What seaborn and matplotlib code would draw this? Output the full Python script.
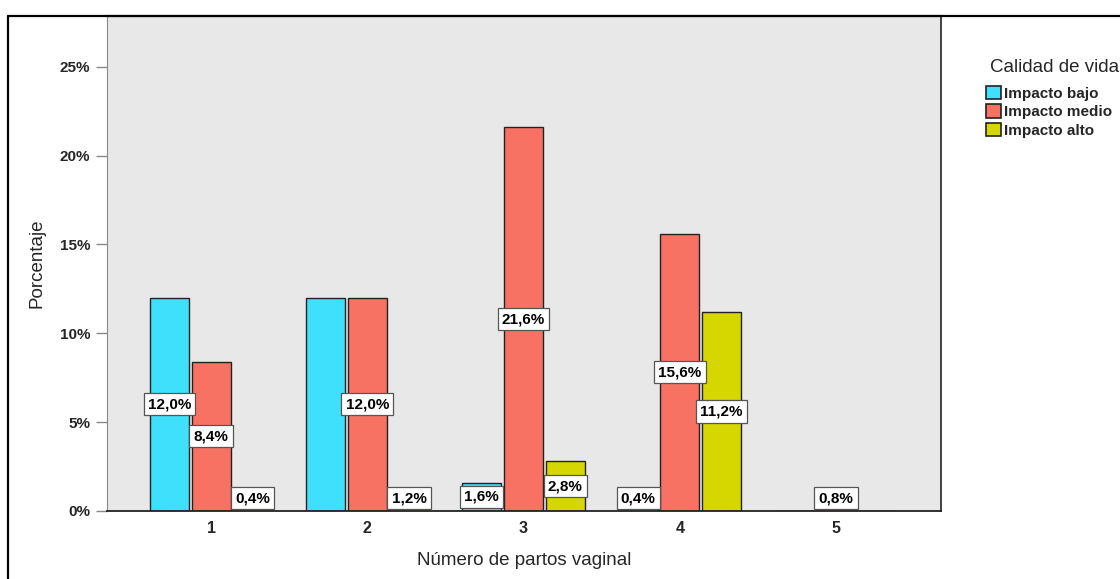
import matplotlib
matplotlib.use("Agg")
import matplotlib.pyplot as plt
from matplotlib.lines import Line2D
import seaborn as sns
import pandas as pd

# Data: percentage of cases by number of vaginal births and quality-of-life impact
partos = ["1", "2", "3", "4", "5"]
impacto_bajo = [12.0, 12.0, 1.6, 0.4, 0.0]
impacto_medio = [8.4, 12.0, 21.6, 15.6, 0.8]
impacto_alto = [0.4, 1.2, 2.8, 11.2, 0.0]
# which bars carry a value label
rotulo_bajo = [True, False, True, True, False]
rotulo_medio = [True, True, True, True, True]
rotulo_alto = [True, True, True, True, False]
niveles = ["Impacto bajo", "Impacto medio", "Impacto alto"]
colores = ["#3ee0fc", "#f87264", "#d6d600"]
yticks = [0, 5, 10, 15, 20, 25]

df = pd.DataFrame({
    "partos": partos * 3,
    "calidad": [niveles[0]] * 5 + [niveles[1]] * 5 + [niveles[2]] * 5,
    "pct": impacto_bajo + impacto_medio + impacto_alto,
})

sns.set_style("white")
plt.rcParams["font.family"] = ["Liberation Sans", "DejaVu Sans"]

fig = plt.figure(figsize=(11.2, 5.79), dpi=100)
ax = fig.add_axes([107 / 1120, 1 - 511 / 579, (941 - 107) / 1120, (511 - 16) / 579])
ax.set_facecolor("#e8e8e8")

sns.barplot(data=df, x="partos", y="pct", hue="calidad", hue_order=niveles,
            palette=colores, width=0.8, gap=0.0625, edgecolor="#222222",
            linewidth=1.0, saturation=1, ax=ax, errorbar=None)

ax.set_xlim(-0.666, 4.672)
ax.set_ylim(0, 27.85)
ax.set_yticks(yticks)
ax.set_yticklabels([f"{t}%" for t in yticks], fontsize=11, fontweight="bold",
                   family=["Liberation Sans Narrow", "Liberation Sans"])
ax.tick_params(axis="y", length=8, width=1, color="#888888", pad=4, left=True)
ax.tick_params(axis="x", length=0, pad=7)
for lab in ax.get_xticklabels():
    lab.set_fontsize(11.5)
    lab.set_fontweight("bold")

ax.set_xlabel("Número de partos vaginal", fontsize=13.5, labelpad=12)
ax.set_ylabel("Porcentaje", fontsize=13.5, labelpad=10)

for side in ["left", "bottom", "right", "top"]:
    ax.spines[side].set_visible(True)
ax.spines["left"].set_color("#888888")
ax.spines["bottom"].set_color("#222222")
ax.spines["bottom"].set_linewidth(1.3)
ax.spines["right"].set_color("#333333")
ax.spines["right"].set_linewidth(1.3)
ax.spines["top"].set_color("#111111")
ax.spines["top"].set_linewidth(1.5)

# Value labels in white boxes at mid-height of each bar
rotulos = [rotulo_bajo, rotulo_medio, rotulo_alto]
for cont, flags in zip(ax.containers, rotulos):
    for bar, show in zip(cont, flags):
        v = bar.get_height()
        if not show:
            continue
        xc = bar.get_x() + bar.get_width() / 2
        yc = max(v / 2, 0.73)
        ax.text(xc, yc, f"{v:.1f}".replace(".", ",") + "%", ha="center", va="center",
                fontsize=11, fontweight="bold", color="black", zorder=5,
                bbox=dict(boxstyle="square,pad=0.27", fc="white", ec="#555555", lw=0.9))

# Legend (title drawn separately so the gap above the entries can be set)
sns.move_legend(ax, "upper left", bbox_to_anchor=(986 / 1120, 1 - 86 / 579),
                bbox_transform=fig.transFigure, frameon=False, title=None,
                fontsize=11, handlelength=0.95, handleheight=0.95,
                handletextpad=0.2, labelspacing=0.23, borderpad=0, borderaxespad=0)
leg = ax.get_legend()
for t in leg.get_texts():
    t.set_fontweight("bold")
for h in leg.legend_handles:
    h.set_edgecolor("#222222")
    h.set_linewidth(1.2)
fig.text(990 / 1120, 1 - 68 / 579, "Calidad de vida", fontsize=13.5,
         ha="left", va="center")

# Outer frame lines
fig.add_artist(Line2D([8 / 1120, 1.0], [1 - 16 / 579, 1 - 16 / 579],
                      transform=fig.transFigure, color="black", lw=1.6))
fig.add_artist(Line2D([8 / 1120, 8 / 1120], [0.0, 1 - 16 / 579],
                      transform=fig.transFigure, color="black", lw=1.6))

fig.savefig("out.png", dpi=100, facecolor="white")
